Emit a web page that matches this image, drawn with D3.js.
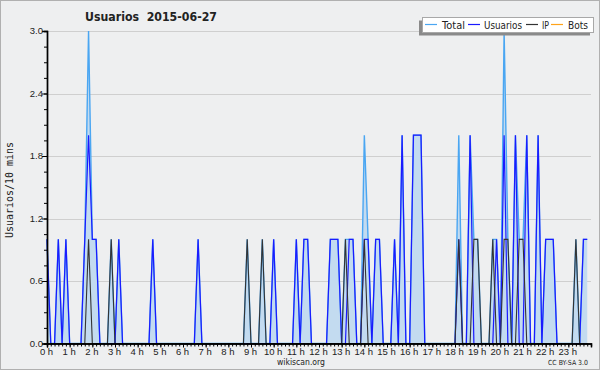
<!DOCTYPE html>
<html>
<head>
<meta charset="utf-8">
<script src="https://cdn.jsdelivr.net/npm/d3@7"></script>
<style>
  html, body { margin: 0; padding: 0; background: #eeeff0; }
  svg { display: block; }
  text { font-family: "DejaVu Sans", sans-serif; fill: #222; }
</style>
</head>
<body>
<svg id="chart"></svg>
<script>
// values per 10 minutes, one row per hour
const usuarios = [
  1,0,0,1,0,1,  0,0,0,0,1,2,  1,1,0,0,0,0,  0,1,0,0,0,0,
  0,0,0,0,1,0,  0,0,0,0,0,0,  0,0,0,0,1,0,  0,0,0,0,0,0,
  0,0,0,0,0,0,  0,0,0,0,0,0,  1,0,0,0,0,0,  1,0,1,1,0,0,
  0,0,0,1,1,1,  0,0,1,1,0,0,  1,1,0,1,1,0,  0,0,1,0,2,0,
  0,2,2,2,0,0,  0,0,0,0,0,0,  0,1,0,0,2,0,  0,0,0,0,0,1,
  0,2,0,0,2,0,  0,2,0,0,2,0,  1,1,1,0,0,0,  0,0,0,0,1,1
];
const ip = [
  0,0,0,0,0,0,  0,0,0,0,0,1,  0,0,0,0,0,1,  0,0,0,0,0,0,
  0,0,0,0,0,0,  0,0,0,0,0,0,  0,0,0,0,0,0,  0,0,0,0,0,0,
  0,0,0,0,0,1,  0,0,0,1,0,0,  0,0,0,0,0,0,  0,0,0,0,0,0,
  0,0,0,0,0,0,  0,1,0,0,0,0,  1,0,0,0,0,0,  0,0,0,0,0,0,
  0,0,0,0,0,0,  0,0,0,0,0,0,  0,1,0,0,0,1,  1,0,0,0,1,0,
  0,1,1,0,0,1,  1,0,0,0,0,0,  0,0,0,0,0,0,  0,0,1,0,0,0
];
const total = [
  1,0,0,1,0,1,  0,0,0,0,1,3,  1,1,0,0,0,1,  0,1,0,0,0,0,
  0,0,0,0,1,0,  0,0,0,0,0,0,  0,0,0,0,1,0,  0,0,0,0,0,0,
  0,0,0,0,0,1,  0,0,0,1,0,0,  1,0,0,0,0,0,  1,0,1,1,0,0,
  0,0,0,1,1,1,  0,1,1,1,0,0,  2,1,0,1,1,0,  0,0,1,0,2,0,
  0,2,2,2,0,0,  0,0,0,0,0,0,  0,2,0,0,2,1,  1,0,0,0,1,1,
  0,3,1,0,2,1,  1,2,0,0,2,0,  1,1,1,0,0,0,  0,0,1,0,1,1
];
const bots = new Array(144).fill(0);

const hours   = d3.range(0, 24);
const yMajors = [0, 0.6, 1.2, 1.8, 2.4, 3.0];

const legendItems = [
  { name: "Total",    color: "#4aa6f2", x: 425, tx: 442, w: 23 },
  { name: "Usuarios", color: "#1a1aff", x: 468, tx: 484, w: 38 },
  { name: "IP",       color: "#333333", x: 526, tx: 542, w: 7 },
  { name: "Bots",     color: "#ffa31a", x: 551, tx: 568, w: 20 }
];

const W = 600, H = 370;
const svg = d3.select("#chart").attr("width", W).attr("height", H);

svg.append("rect")
  .attr("x", 0.5).attr("y", 0.5).attr("width", W - 1).attr("height", H - 1)
  .attr("fill", "#eeeff0").attr("stroke", "#b0b0b0");

const x = d3.scaleLinear().domain([0, 144]).range([47, 591]);
const y = d3.scaleLinear().domain([0, 3]).range([343.5, 31]);

// grid
svg.append("g")
  .selectAll("line")
  .data(yMajors.slice(1))
  .join("line")
    .attr("x1", x(0)).attr("x2", x(144))
    .attr("y1", d => Math.round(y(d)) + 0.5).attr("y2", d => Math.round(y(d)) + 0.5)
    .attr("stroke", "#cfcfcf");

// area + lines
const idx = d3.range(144);
const area = d3.area().x(i => x(i)).y0(y(0)).y1(i => y(total[i]));
const line = arr => d3.line().x(i => x(i)).y(i => y(arr[i]))(idx);

svg.append("path").attr("d", area(idx)).attr("fill", "#c3dbf0");
svg.append("path").attr("d", line(bots)).attr("fill", "none").attr("stroke", "#ffa31a");
svg.append("path").attr("d", line(total)).attr("fill", "none")
  .attr("stroke", "#4aa6f2").attr("stroke-width", 1.4);
svg.append("path").attr("d", line(usuarios)).attr("fill", "none")
  .attr("stroke", "#1a1aff").attr("stroke-width", 1.2);
svg.append("path").attr("d", line(ip)).attr("fill", "none")
  .attr("stroke", "#333").attr("stroke-width", 1.1);

// x axis: minor ticks every 10 min, labels on hours
const xMinor = svg.append("g").attr("transform", `translate(0,${y(0)})`)
  .call(d3.axisBottom(x).tickValues(d3.range(0, 144)).tickSize(3).tickFormat(""));
const xMajor = svg.append("g").attr("transform", `translate(0,${y(0)})`)
  .call(d3.axisBottom(x).tickValues(hours.map(h => h * 6)).tickSize(4)
    .tickFormat(i => (i / 6) + " h"));
[xMinor, xMajor].forEach(g => {
  g.select(".domain").attr("stroke", "#000").attr("stroke-width", 1.4);
  g.selectAll(".tick line").attr("stroke", "#000");
});
xMajor.selectAll(".tick text")
  .attr("y", 5).attr("dx", -1)
  .style("font-size", "9.5px").style("font-family", "Liberation Sans, sans-serif")
  .attr("fill", "#333");

// y axis
const yMinor = svg.append("g").attr("transform", `translate(${x(0)},0)`)
  .call(d3.axisLeft(y).tickValues(d3.range(0, 21).map(k => k * 0.15)).tickSize(3).tickFormat(""));
const yMajor = svg.append("g").attr("transform", `translate(${x(0)},0)`)
  .call(d3.axisLeft(y).tickValues(yMajors).tickSize(5).tickFormat(d3.format(".1f")));
[yMinor, yMajor].forEach(g => {
  g.select(".domain").attr("stroke", "#000").attr("stroke-width", 1.4);
  g.selectAll(".tick line").attr("stroke", "#000");
});
yMajor.selectAll(".tick text")
  .attr("x", -4).attr("dy", "0.3em")
  .style("font-size", "9.5px").style("font-family", "Liberation Sans, sans-serif")
  .attr("fill", "#333");

// title
svg.append("text")
  .attr("x", 85).attr("y", 21)
  .attr("textLength", 132).attr("lengthAdjust", "spacingAndGlyphs")
  .style("font-size", "12.5px").style("font-weight", "bold")
  .style("white-space", "pre")
  .text("Usuarios  2015-06-27");

// y axis title
svg.append("text")
  .attr("transform", "translate(13,190) rotate(-90)")
  .attr("text-anchor", "middle")
  .attr("textLength", 96).attr("lengthAdjust", "spacingAndGlyphs")
  .style("font-size", "10px").style("font-family", "DejaVu Sans Mono, monospace")
  .text("Usuarios/10 mins");

// legend
const lg = svg.append("g");
lg.append("rect").attr("x", 419).attr("y", 20.5).attr("width", 171).attr("height", 15).attr("fill", "#8a8a8a");
lg.append("rect").attr("x", 422.5).attr("y", 17.5).attr("width", 171).attr("height", 15)
  .attr("fill", "#fff").attr("stroke", "#a8a8a8");
lg.selectAll("line.key")
  .data(legendItems)
  .join("line")
    .attr("class", "key")
    .attr("x1", d => d.x).attr("x2", d => d.x + 12)
    .attr("y1", 24.5).attr("y2", 24.5)
    .attr("stroke", d => d.color).attr("stroke-width", 1.2);
lg.selectAll("text")
  .data(legendItems)
  .join("text")
    .attr("x", d => d.tx).attr("y", 28.5)
    .attr("textLength", d => d.w).attr("lengthAdjust", "spacingAndGlyphs")
    .style("font-size", "10px")
    .attr("fill", "#222")
    .text(d => d.name);

// footer
svg.append("text")
  .attr("x", 301).attr("y", 365).attr("text-anchor", "middle")
  .attr("textLength", 48).attr("lengthAdjust", "spacingAndGlyphs")
  .style("font-size", "9.5px").attr("fill", "#333")
  .text("wikiscan.org");
svg.append("text")
  .attr("x", 548).attr("y", 365)
  .attr("textLength", 40).attr("lengthAdjust", "spacingAndGlyphs")
  .style("font-size", "7px").attr("fill", "#333")
  .text("CC BY-SA 3.0");
</script>
</body>
</html>
